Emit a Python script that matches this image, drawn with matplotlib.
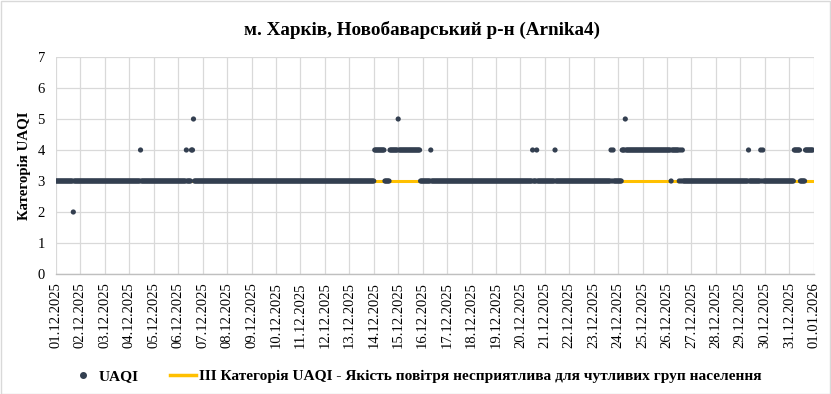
import matplotlib
matplotlib.use("Agg")
import matplotlib.pyplot as plt
import matplotlib.dates as mdates
from matplotlib.lines import Line2D
from matplotlib.patches import Rectangle
import numpy as np
import pandas as pd

plt.rcParams['font.family'] = ['Liberation Serif', 'DejaVu Serif']

title = "м. Харків, Новобаварський р-н (Arnika4)"
ylabel = "Категорія UAQI"
series_label = "UAQI"
threshold_label = "III Категорія UAQI - Якість повітря несприятлива для чутливих груп населення"
threshold_value = 3

# run-length encoded hourly UAQI: segment start (dd.mm HH) and value until next start
seg_start = ["01.12 00", "01.12 17", "01.12 18", "04.12 11", "04.12 12",
             "06.12 08", "06.12 09", "06.12 13", "06.12 15", "06.12 16",
             "14.12 01", "14.12 11", "14.12 16", "15.12 00", "15.12 01",
             "15.12 22", "16.12 08", "16.12 09", "20.12 12", "20.12 13",
             "20.12 16", "20.12 17", "21.12 10", "21.12 11", "23.12 17",
             "23.12 18", "23.12 19", "23.12 20", "24.12 04", "24.12 07",
             "24.12 08", "26.12 04", "26.12 05", "26.12 12", "26.12 13",
             "26.12 14", "26.12 15", "26.12 16", "29.12 08", "29.12 09",
             "29.12 20", "29.12 21", "29.12 22", "29.12 23", "31.12 05",
             "31.12 11", "31.12 16"]
seg_value = [3, 2, 3, 4, 3,
             4, 3, 4, 5, 3,
             4, 3, 4, 5, 4,
             3, 4, 3, 4, 3,
             4, 3, 4, 3, 4,
             3, 4, 3, 4, 5,
             4, 3, 4, 3, 4,
             3, 4, 3, 4, 3,
             4, 3, 4, 3, 4,
             3, 4]
period_start = "2025-12-01 00:00"
period_end = "2025-12-31 23:00"
axis_end = "2026-01-01 00:00"

hours = pd.date_range(period_start, period_end, freq="h")
starts = pd.to_datetime(["2025-" + s.split()[0].split(".")[1] + "-" + s.split()[0].split(".")[0]
                         + " " + s.split()[1] + ":00" for s in seg_start])
idx = np.searchsorted(starts.values, hours.values, side="right") - 1
uaqi = np.array(seg_value)[idx]

fig = plt.figure(figsize=(8.31, 3.94), dpi=100)
ax = fig.add_axes([56/831, 1 - 274/394, (813.7 - 56)/831, (274 - 57)/394])

line_x = pd.date_range(period_start, axis_end, freq="h")
ax.plot(line_x, np.full(len(line_x), threshold_value), color="#ffc000", lw=2.2, zorder=2)
ax.scatter(hours, uaqi, s=14, color="#333f50", edgecolors="none", zorder=3)

ax.set_xlim(pd.Timestamp(period_start), pd.Timestamp(axis_end))
ax.set_ylim(0, 7)
ax.set_yticks(range(0, 8))
ax.xaxis.set_major_locator(mdates.DayLocator())
ax.xaxis.set_major_formatter(mdates.DateFormatter("%d.%m.%Y"))
ax.tick_params(axis="x", rotation=90, labelsize=10.5, length=0, pad=6)
ax.tick_params(axis="y", labelsize=10.5, length=0, pad=8)
ax.grid(True, color="#d9d9d9", lw=0.9)
ax.set_axisbelow(True)
for s in ["top", "right", "left"]:
    ax.spines[s].set_visible(False)
ax.spines["bottom"].set_color("#bfbfbf")
ax.spines["bottom"].set_linewidth(1.0)

ax.set_ylabel(ylabel, fontsize=10.7, fontweight="bold", labelpad=5)
fig.text(421.5/831, 1 - 30/394, title, ha="center", va="center", fontsize=13.8, fontweight="bold")

handles = [Line2D([], [], marker="o", ls="none", color="#333f50", markersize=4),
           Line2D([], [], color="#ffc000", lw=2.5)]
fig.legend(handles, [series_label, threshold_label], loc="center",
           bbox_to_anchor=(0.5, 1 - 376/394), ncol=2, frameon=False,
           prop={"weight": "bold", "size": 11.1}, columnspacing=2.0, handlelength=1.7,
           handletextpad=0.2)

fig.patches.append(Rectangle((0.5/831, 0.5/394), 1 - 1.5/831, 1 - 1.5/394, transform=fig.transFigure,
                             fill=False, edgecolor="#d9d9d9", lw=1))
fig.savefig("out.png", dpi=100)
